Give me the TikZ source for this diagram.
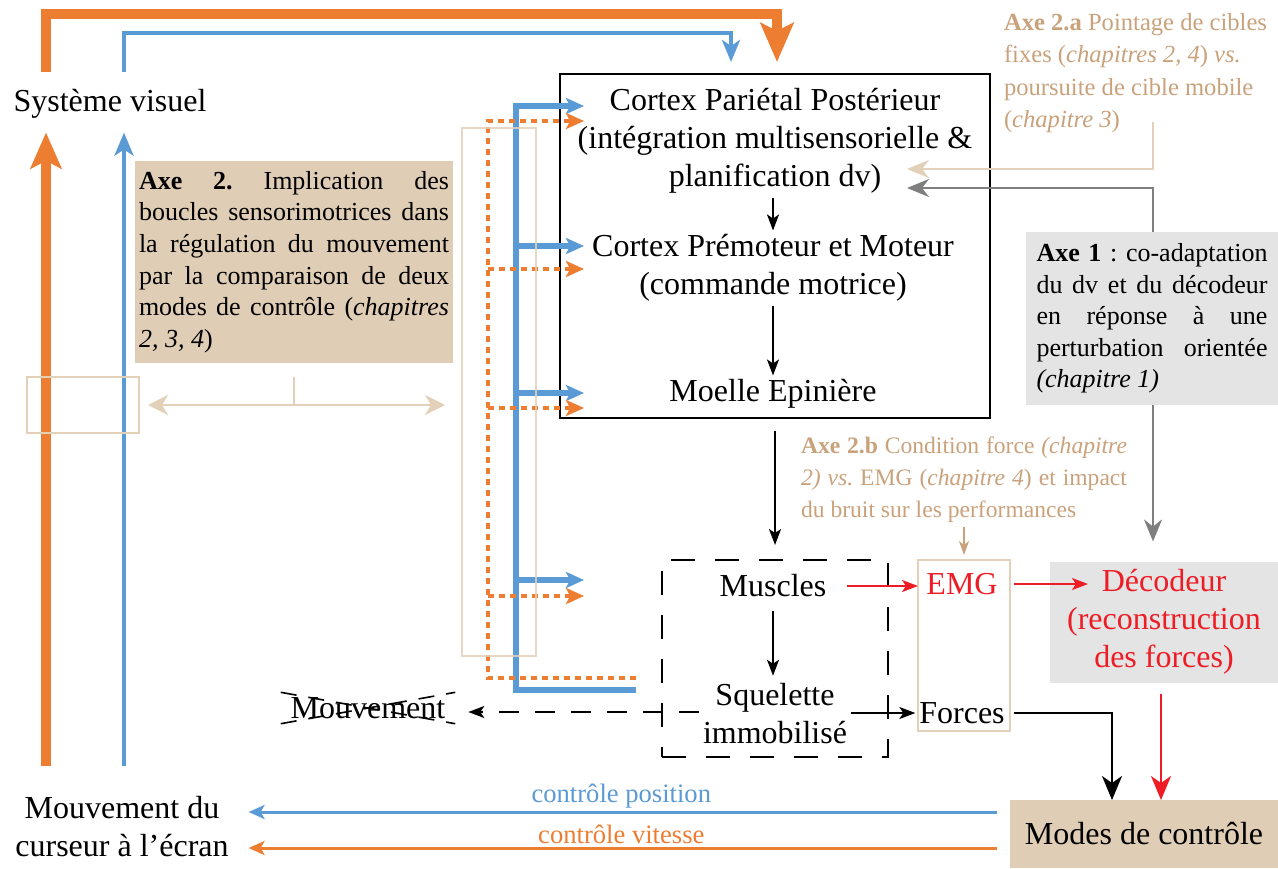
\documentclass[tikz,border=0pt]{standalone}
\usepackage{fontspec}
\setmainfont{Liberation Serif}
\frenchspacing
\usetikzlibrary{%
    positioning,
    arrows.meta
}
\definecolor{vorange}{HTML}{ED7D31}
\definecolor{vblue}{HTML}{5B9BD5}
\definecolor{vtan}{HTML}{E0CDB5}
\definecolor{vtanline}{HTML}{E3D0B9}
\definecolor{vtantext}{HTML}{C9A27C}
\definecolor{vgrey}{HTML}{7F7F7F}
\definecolor{vgreyfill}{HTML}{E4E4E4}
\definecolor{vred}{HTML}{EE1C25}
\tikzset{
    every node/.style = {
        font=\fontsize{16}{19}\selectfont,
        align=center,
        inner sep=2pt,
        outer sep=0pt,
    },
    axebox/.style = {
        font=\fontsize{13}{15.8}\selectfont,
        align=justify,
    },
    axenote/.style = {
        font=\fontsize{12.3}{16.3}\selectfont,
        text=vtantext,
    },
    tanbox/.style = {draw=vtanline, line width=1.3pt},
    fbblue/.style = {draw=vblue, line width=3pt, -{Stealth[width=8pt,length=9pt,inset=2pt]}},
    fborange/.style = {draw=vorange, line width=1.6pt, dash pattern=on 3pt off 2.5pt,
        -{Stealth[width=8pt,length=9pt,inset=2pt]}},
    flow/.style = {draw=black, line width=1pt, -{Stealth[width=6pt,length=8pt,inset=2pt]}},
    bigflow/.style = {line width=1.3pt, -{Stealth[width=10pt,length=12pt,inset=3.5pt]}},
    outflow/.style = {line width=1.5pt, -{Stealth[width=7pt,length=8pt,inset=2pt]}},
}

\begin{document}
\begin{tikzpicture}[x=0.5pt, y=-0.5pt]
    \useasboundingbox (0,0) rectangle (1278,868);

    % boucle visuelle
    \node (sysvis) at (110,104) {Système visuel};
    \node (curseur) at (122,827) {Mouvement du\\curseur à l’écran};
    \coordinate (orangeout) at (46,72);
    \coordinate (orangein) at (777,62);
    \coordinate (blueout) at (124,72);
    \coordinate (bluein) at (731,62);
    \coordinate (orangeup) at (46,766);
    \coordinate (blueup) at (124,766);
    \draw[draw=vorange, line width=5pt, -{Stealth[width=16.5pt,length=19.5pt,inset=4pt]}]
        (orangeout) |- (46,14) -| (orangein);
    \draw[draw=vblue, line width=2pt, -{Stealth[width=9pt,length=11pt,inset=3pt]}]
        (blueout) |- (124,33) -| (bluein);
    \draw[draw=vorange, line width=5pt, -{Stealth[width=15.5pt,length=18pt,inset=4pt]}, shorten >=5pt]
        (orangeup) -- (sysvis.south -| orangeup);
    \draw[draw=vblue, line width=2.3pt, -{Stealth[width=9.5pt,length=11.5pt,inset=3pt]}, shorten >=5pt]
        (blueup) -- (sysvis.south -| blueup);

    % cortex
    \node[
        draw,
        line width=1pt,
        minimum width=215pt,
        minimum height=172pt
    ] (cortex) at (775,246) {};
    \node (ppc) at (775,141) {Cortex Pariétal Postérieur\\(intégration multisensorielle \&\\planification dv)};
    \node (pmm) at (773,268) {Cortex Prémoteur et Moteur\\(commande motrice)};
    \node (moelle) at (773,394) {Moelle Epinière};
    \draw[flow] (pmm.north |- ppc.south) -- (pmm.north);
    \draw[flow] (pmm.south) -- (moelle.north);

    % corps
    \node[
        draw,
        line width=1pt,
        dash pattern=on 12pt off 10pt,
        minimum width=113pt,
        minimum height=98.5pt
    ] (corps) at (775,658.5) {};
    \node (muscles) at (773,586) {Muscles};
    \node (squelette) at (775,714) {Squelette\\immobilisé};
    \draw[flow, shorten <=6.5pt, shorten >=7.5pt] (cortex.south) -- (corps.north);
    \draw[flow, shorten <=5pt, shorten >=2pt] (muscles.south) -- (squelette.north -| muscles.south);

    % mouvement bloque
    \node (mouvement) at (368,708) {Mouvement};
    \draw[line width=0.8pt, dash pattern=on 8pt off 6pt, shorten <=-3pt, shorten >=-3pt]
        (mouvement.north west) -- (mouvement.south east);
    \draw[line width=0.8pt, dash pattern=on 8pt off 6pt, shorten <=-3pt, shorten >=-3pt]
        (mouvement.south west) -- (mouvement.north east);
    \draw[flow, dash pattern=on 10pt off 8pt, shorten >=9.5pt]
        (squelette.west |- 0,712) -- (mouvement.east |- 0,712);

    % signaux
    \node[
        tanbox,
        minimum width=46pt,
        minimum height=85.5pt
    ] (capteurs) at (964,645.5) {};
    \node[text=vred] (emg) at (962,584) {EMG};
    \node (forces) at (962,713) {Forces};
    \node[
        fill=vgreyfill,
        text=vred,
        minimum width=114pt,
        minimum height=60.5pt
    ] (decodeur) at (1164,622) {Décodeur\\(reconstruction\\des forces)};
    \node[
        fill=vtan,
        minimum width=134pt,
        minimum height=34pt
    ] (modes) at (1144,834) {Modes de contrôle};
    \draw[flow, draw=vred, shorten <=8.5pt] (muscles.east) -- (muscles.east -| capteurs.west);
    \draw[flow, draw=vred, shorten <=2pt, shorten >=-19pt] (emg.east -| capteurs.east) -- (emg.east -| decodeur.west);
    \draw[flow] (squelette.east |- forces.west) -- (forces.west);
    \draw[bigflow, shorten <=2.5pt] (forces.east) -| ([xshift=-16pt]modes.north);
    \draw[bigflow, draw=vred, shorten <=5.5pt]
        ([xshift=-1.5pt]decodeur.south) -- ([xshift=-1.5pt]decodeur.south |- modes.north);

    % modes de controle vers le curseur
    \draw[outflow, draw=vblue, shorten <=6.5pt, shorten >=8pt]
        ([yshift=11pt]modes.west) -- ([yshift=11pt]modes.west -| curseur.east)
        node[midway, above, text=vblue, font=\fontsize{13.3}{16}\selectfont] (lblpos) {contrôle position};
    \draw[outflow, draw=vorange, shorten <=6.5pt, shorten >=8pt]
        ([yshift=-7pt]modes.west) -- ([yshift=-7pt]modes.west -| curseur.east)
        node[midway, above, text=vorange, font=\fontsize{13.3}{16}\selectfont] (lblvit) {contrôle vitesse};

    % retours sensoriels
    \coordinate (fbblue) at (636,690);
    \coordinate (fborange) at (636,678);
    \draw[fbblue] (fbblue) -| (516,106) -- (584,106);
    \draw[fbblue] (516,246) -- (584,246);
    \draw[fbblue] (516,393) -- (584,393);
    \draw[fbblue] (516,580) -- (584,580);
    \draw[fborange] (fborange) -| (488,121) -- (584,121);
    \draw[fborange] (488,269) -- (584,269);
    \draw[fborange] (488,408) -- (584,408);
    \draw[fborange] (488,596) -- (584,596);

    % axe 2
    \node[
        fill=vtan,
        axebox,
        text width=155pt,
        minimum height=101pt
    ] (axe2) at (294,262) {\textbf{Axe 2.} Implication des\linebreak
        boucles sensorimotrices dans\linebreak
        la régulation du mouvement\linebreak
        par la comparaison de deux\linebreak
        modes de contrôle (\textit{chapitres}\linebreak
        \textit{2, 3, 4})};
    \node[
        tanbox,
        minimum width=56pt,
        minimum height=28pt
    ] (selleft) at (83,405) {};
    \node[
        tanbox,
        opacity=0.85,
        minimum width=37pt,
        minimum height=264pt
    ] (selmid) at (499,392) {};
    \draw[draw=vtanline, line width=1.3pt,
        {Stealth[width=10pt,length=10pt,inset=3pt]}-{Stealth[width=10pt,length=10pt,inset=3pt]},
        shorten <=4.5pt, shorten >=8.5pt]
        (selleft.east) -- (selleft.east -| selmid.west);
    \draw[draw=vtanline, line width=1.3pt, shorten <=7pt] (axe2.south) -- (axe2.south |- selleft.east);

    % axe 2.a
    \node[
        axenote,
        align=left,
        anchor=west
    ] (axe2a) at (1000,73) {\textbf{Axe 2.a} Pointage de cibles\\
        fixes (\textit{chapitres 2, 4}) \textit{vs.}\\
        poursuite de cible mobile\\
        (\textit{chapitre 3})};
    \coordinate (tanstart) at (1153,122);
    \coordinate (ppctan) at (907,169);
    \coordinate (ppcgrey) at (907,188);
    \draw[draw=vtanline, line width=1.3pt, -{Stealth[width=9pt,length=11pt,inset=3.5pt]}]
        (tanstart) |- (ppctan);

    % axe 1
    \draw[draw=vgrey, line width=1.3pt,
        {Stealth[width=9pt,length=11pt,inset=3.5pt]}-{Stealth[width=9pt,length=11pt,inset=3.5pt]},
        shorten >=10pt]
        (ppcgrey) -| ([xshift=-5.5pt]decodeur.north);
    \node[
        fill=vgreyfill,
        axebox,
        text width=115.5pt,
        inner xsep=5.25pt,
        minimum height=86.5pt
    ] (axe1) at (1152,318.5) {\textbf{Axe 1} : co-adaptation\linebreak
        du dv et du décodeur\linebreak
        en réponse à une\linebreak
        perturbation orientée\linebreak
        \textit{(chapitre 1)}};

    % axe 2.b
    \node[
        axenote,
        font=\fontsize{11.8}{16}\selectfont,
        align=justify,
        text width=163pt
    ] (axe2b) at (964,480) {\textbf{Axe 2.b} Condition force \textit{(chapitre}\linebreak
        \textit{2) vs.} EMG (\textit{chapitre 4}) et impact\linebreak
        du bruit sur les performances};
    \draw[draw=vtantext, line width=1pt, -{Stealth[width=5pt,length=7pt,inset=2pt]}, shorten >=2.5pt]
        (axe2b.south -| capteurs.north) -- (capteurs.north);
\end{tikzpicture}
\end{document}
